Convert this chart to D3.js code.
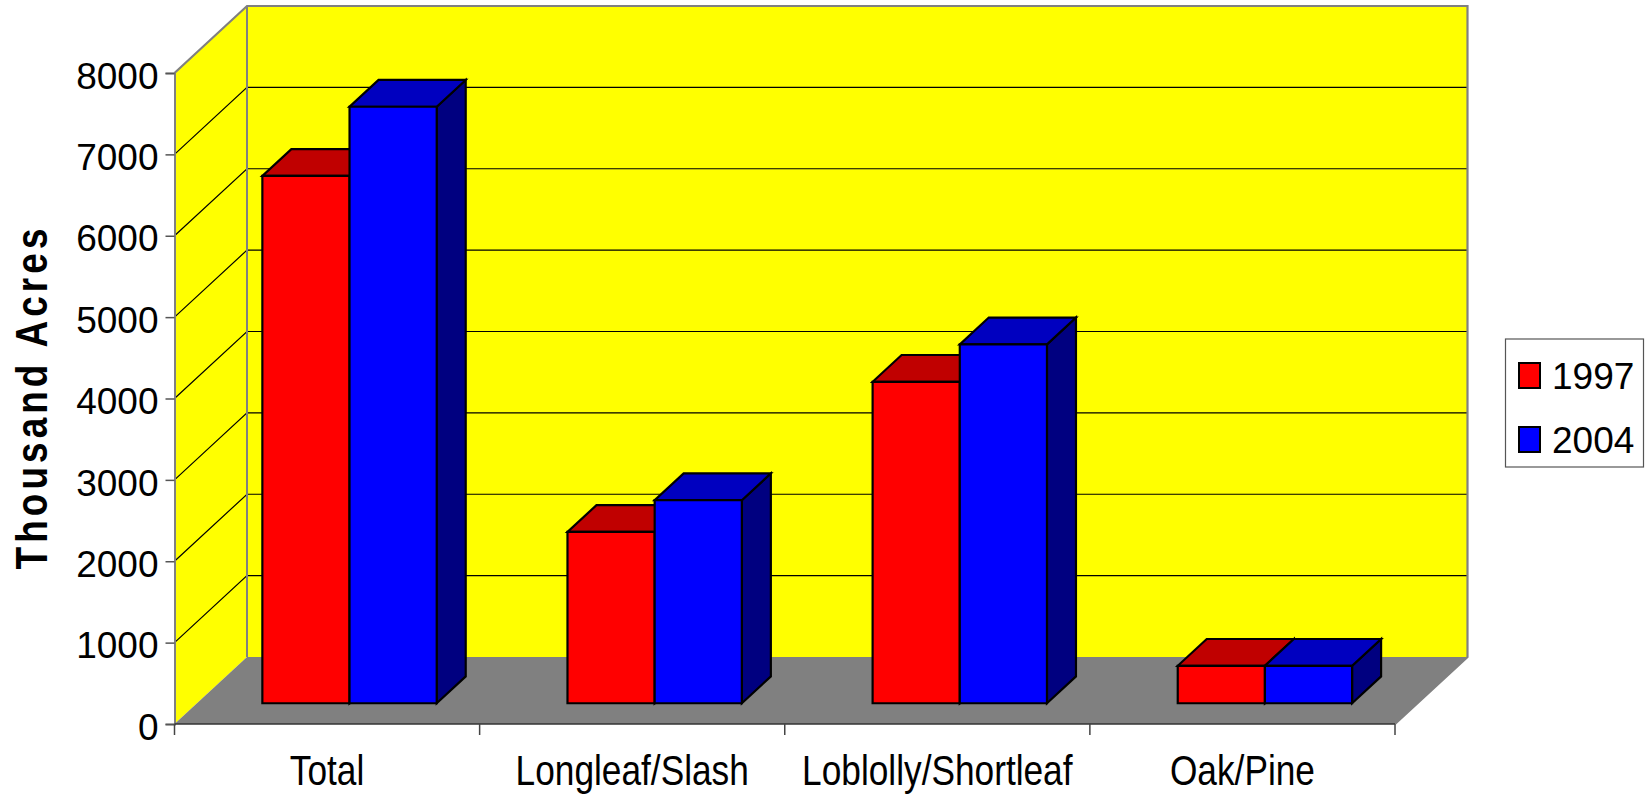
<!DOCTYPE html>
<html>
<head>
<meta charset="utf-8">
<script src="https://cdn.jsdelivr.net/npm/d3@7"></script>
<style>
  body { margin: 0; background: #fff; }
  svg { display: block; font-family: "Liberation Sans", Arial, sans-serif; }
</style>
</head>
<body>
<div id="graph"></div>
<script>
//Javascript Document

//chart data
var categories = ["Total", "Longleaf/Slash", "Loblolly/Shortleaf", "Oak/Pine"];
var seriesNames = ["1997", "2004"];
var values1997 = [6480, 2105, 3950, 460];
var values2004 = [7330, 2495, 4410, 460];
var yTicks = [0, 1000, 2000, 3000, 4000, 5000, 6000, 7000, 8000];

(function(){
	"use strict";

	var width = 1648, height = 796;

	//front plane of the 3d box and how far the back wall is pushed away
	var left = 174.5, right = 1395, bottom = 724, top = 73;
	var depthX = 72.5, depthY = 67;
	//the bars sit in the middle of the depth
	var z0 = 0.31, z1 = 0.71;

	var frontColors = {"1997": "#ff0000", "2004": "#0000ff"};
	var topColors = {"1997": "#c00000", "2004": "#0000c0"};
	var sideColors = {"1997": "#800000", "2004": "#000080"};

	var canvas = d3.select("#graph").append("svg")
		.attr("width", width)
		.attr("height", height);

	var x0 = d3.scaleBand()
		.domain(categories)
		.range([left, right]);

	//gap width 150% like the old excel chart
	var x1 = d3.scaleBand()
		.domain(seriesNames)
		.range([0, x0.bandwidth()])
		.paddingOuter(0.75);

	var y = d3.scaleLinear()
		.domain([0, 8000])
		.range([bottom, top]);

	//turns a point (front x, value, depth) into screen coords
	function proj(x, v, z) {
		return [x + z * depthX, y(v) - z * depthY];
	}

	var line = d3.line();
	function poly(pts) { return line(pts) + "Z"; }

	var vMax = y.domain()[1];

	//side wall
	canvas.append("path")
		.attr("d", poly([proj(left, 0, 0), proj(left, vMax, 0), proj(left, vMax, 1), proj(left, 0, 1)]))
		.attr("fill", "#ffff00");

	//back wall
	canvas.append("path")
		.attr("d", poly([proj(left, 0, 1), proj(left, vMax, 1), proj(right, vMax, 1), proj(right, 0, 1)]))
		.attr("fill", "#ffff00");

	//floor
	canvas.append("path")
		.attr("d", poly([proj(left, 0, 0), proj(right, 0, 0), proj(right, 0, 1), proj(left, 0, 1)]))
		.attr("fill", "#808080");

	//gridlines on both walls
	var grid = canvas.append("g").attr("class", "grid");
	yTicks.filter(function(v){ return v > 0 && v < vMax; }).forEach(function(v){
		grid.append("path")
			.attr("d", line([proj(left, v, 0), proj(left, v, 1), proj(right, v, 1)]))
			.attr("fill", "none")
			.attr("stroke", "#000")
			.attr("stroke-width", 1.2);
	});

	//grey edges of the walls
	canvas.append("path")
		.attr("d", line([proj(left, vMax, 0), proj(left, vMax, 1), proj(right, vMax, 1), proj(right, 0, 1), proj(right, 0, 0)]))
		.attr("fill", "none")
		.attr("stroke", "#808080")
		.attr("stroke-width", 2.2);

	canvas.append("path")
		.attr("d", line([proj(left, vMax, 1), proj(left, 0, 1)]))
		.attr("fill", "none")
		.attr("stroke", "#808080")
		.attr("stroke-width", 2);

	//bars, one category at a time, red first so blue covers its side
	var bars = canvas.append("g").attr("class", "bars");
	categories.forEach(function(c, i){
		var vals = {"1997": values1997[i], "2004": values2004[i]};
		seriesNames.forEach(function(s){
			var v = vals[s];
			var xl = x0(c) + x1(s);
			var xr = xl + x1.bandwidth();
			var faces = [
				{pts: [proj(xr, 0, z0), proj(xr, 0, z1), proj(xr, v, z1), proj(xr, v, z0)], fill: sideColors[s]},
				{pts: [proj(xl, v, z0), proj(xr, v, z0), proj(xr, v, z1), proj(xl, v, z1)], fill: topColors[s]},
				{pts: [proj(xl, 0, z0), proj(xr, 0, z0), proj(xr, v, z0), proj(xl, v, z0)], fill: frontColors[s]}
			];
			bars.selectAll(null)
				.data(faces)
				.enter()
				.append("path")
				.attr("d", function(d){ return poly(d.pts); })
				.attr("fill", function(d){ return d.fill; })
				.attr("stroke", "#000")
				.attr("stroke-width", 2.2)
				.attr("stroke-linejoin", "miter");
		});
	});

	//y axis
	var yAxis = d3.axisLeft(y)
		.tickValues(yTicks)
		.tickSize(9)
		.tickPadding(7)
		.tickFormat(d3.format(".0f"));

	var yg = canvas.append("g")
		.attr("transform", "translate(" + left + ",0)")
		.call(yAxis);
	yg.select(".domain").attr("stroke", "#808080").attr("stroke-width", 2);
	yg.selectAll(".tick line").attr("stroke", "#555").attr("stroke-width", 1.5);
	yg.selectAll(".tick text")
		.attr("dy", "0.41em")
		.attr("font-size", "37px")
		.attr("font-family", "Liberation Sans, Arial, sans-serif")
		.attr("fill", "#000");

	//x axis: front edge of the floor, ticks on the category borders
	var xg = canvas.append("g").attr("class", "axisX");
	xg.append("line")
		.attr("x1", left).attr("x2", right)
		.attr("y1", bottom).attr("y2", bottom)
		.attr("stroke", "#333")
		.attr("stroke-width", 1.5);

	var borders = categories.map(function(c){ return x0(c); }).concat([x0(categories[categories.length - 1]) + x0.bandwidth()]);
	xg.selectAll(".border")
		.data(borders)
		.enter()
		.append("line")
		.attr("x1", function(d){ return d; })
		.attr("x2", function(d){ return d; })
		.attr("y1", bottom)
		.attr("y2", bottom + 11)
		.attr("stroke", "#444")
		.attr("stroke-width", 1.5);

	var xAxis = d3.axisBottom(x0).tickSize(0);
	var labels = canvas.append("g")
		.attr("transform", "translate(0," + bottom + ")")
		.call(xAxis);
	labels.select(".domain").remove();
	labels.selectAll(".tick text")
		.attr("y", 0)
		.attr("dy", 0)
		.attr("transform", "translate(0,61) scale(0.82,1)")
		.attr("font-size", "43px")
		.attr("font-family", "Liberation Sans, Arial, sans-serif")
		.attr("fill", "#000");

	//axis title, narrow letters spread apart like the original
	canvas.append("text")
		.attr("text-anchor", "middle")
		.attr("transform", "translate(47,397)rotate(-90)scale(0.82,1)")
		.attr("font-size", "45px")
		.attr("font-weight", "bold")
		.attr("letter-spacing", "5px")
		.text("Thousand Acres");

	//legend
	var legend = canvas.append("g").attr("class", "legend");
	legend.append("rect")
		.attr("x", 1505.5).attr("y", 339)
		.attr("width", 138).attr("height", 128)
		.attr("fill", "#fff")
		.attr("stroke", "#555")
		.attr("stroke-width", 1.2);

	var item = legend.selectAll(".item")
		.data(seriesNames)
		.enter()
		.append("g")
		.attr("transform", function(d, i){ return "translate(1519," + (363 + i * 64) + ")"; });

	item.append("rect")
		.attr("width", 21).attr("height", 25)
		.attr("fill", function(d){ return frontColors[d]; })
		.attr("stroke", "#000")
		.attr("stroke-width", 2);

	item.append("text")
		.attr("x", 33)
		.attr("y", 26)
		.attr("font-size", "37px")
		.text(function(d){ return d; });

})();
</script>
</body>
</html>
